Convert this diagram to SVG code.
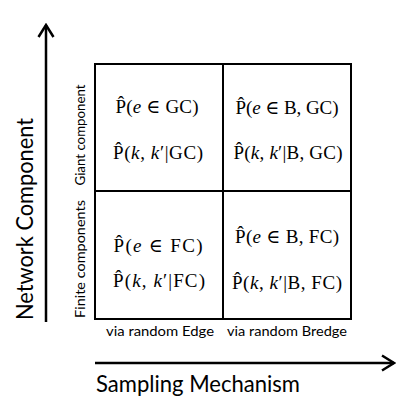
<svg xmlns="http://www.w3.org/2000/svg" width="409" height="409" viewBox="0 0 409 409">
<style>
.sans{font-family:"Lato","Open Sans","DejaVu Sans",sans-serif;fill:#000}
.big{font-size:23px}
.small{font-size:14px}
.math{font-family:"Liberation Serif","DejaVu Serif",serif;font-size:19px;fill:#000;text-anchor:middle}
.it{font-style:italic}
.grid{fill:none;stroke:#000;stroke-width:2}
.axis{stroke:#000;stroke-width:2.5;fill:none}
</style>
<defs>
<marker id="chev" viewBox="0 0 16 18" refX="14" refY="9" markerWidth="16" markerHeight="18" markerUnits="userSpaceOnUse" orient="auto">
<path d="M2,1.5 L14,9 L2,16.5" fill="none" stroke="#000" stroke-width="2.5"/>
</marker>
</defs>
<g id="connectors">
<line class="axis" x1="46" y1="322" x2="46" y2="25" marker-end="url(#chev)"/>
<line class="axis" x1="95" y1="363" x2="394" y2="363" marker-end="url(#chev)"/>
</g>
<g id="axis-labels">
<text class="sans big" transform="translate(33,219) rotate(-90)" text-anchor="middle" textLength="202" lengthAdjust="spacingAndGlyphs">Network Component</text>
<text class="sans big" x="96" y="392" textLength="204" lengthAdjust="spacingAndGlyphs">Sampling Mechanism</text>
<text class="sans small" transform="translate(85,135) rotate(-90)" text-anchor="middle" textLength="101" lengthAdjust="spacingAndGlyphs">Giant component</text>
<text class="sans small" transform="translate(85,259) rotate(-90)" text-anchor="middle" textLength="118" lengthAdjust="spacingAndGlyphs">Finite components</text>
<text class="sans small" x="106" y="336" textLength="108" lengthAdjust="spacingAndGlyphs">via random Edge</text>
<text class="sans small" x="227" y="336" textLength="120" lengthAdjust="spacingAndGlyphs">via random Bredge</text>
</g>
<g id="grid">
<rect class="grid" x="95" y="64" width="256" height="255"/>
<line class="grid" x1="223" y1="64" x2="223" y2="319"/>
<line class="grid" x1="95" y1="191" x2="351" y2="191"/>
</g>
<g id="cell-gc-edge">
<text class="math" x="157" y="113" textLength="83" lengthAdjust="spacing">P̂(<tspan class="it">e</tspan> ∈ GC)</text>
<text class="math" x="158" y="159" textLength="90" lengthAdjust="spacing">P̂(<tspan class="it">k</tspan>, <tspan class="it">k</tspan>′|GC)</text>
</g>
<g id="cell-gc-bredge">
<text class="math" x="287" y="114" textLength="103" lengthAdjust="spacing">P̂(<tspan class="it">e</tspan> ∈ B, GC)</text>
<text class="math" x="288" y="159" textLength="109" lengthAdjust="spacing">P̂(<tspan class="it">k</tspan>, <tspan class="it">k</tspan>′|B, GC)</text>
</g>
<g id="cell-fc-edge">
<text class="math" x="158" y="252" textLength="89" lengthAdjust="spacing">P̂(<tspan class="it">e</tspan> ∈ FC)</text>
<text class="math" x="159" y="287" textLength="92" lengthAdjust="spacing">P̂(<tspan class="it">k</tspan>, <tspan class="it">k</tspan>′|FC)</text>
</g>
<g id="cell-fc-bredge">
<text class="math" x="287" y="243" textLength="104" lengthAdjust="spacing">P̂(<tspan class="it">e</tspan> ∈ B, FC)</text>
<text class="math" x="287" y="289" textLength="110" lengthAdjust="spacing">P̂(<tspan class="it">k</tspan>, <tspan class="it">k</tspan>′|B, FC)</text>
</g>
</svg>
